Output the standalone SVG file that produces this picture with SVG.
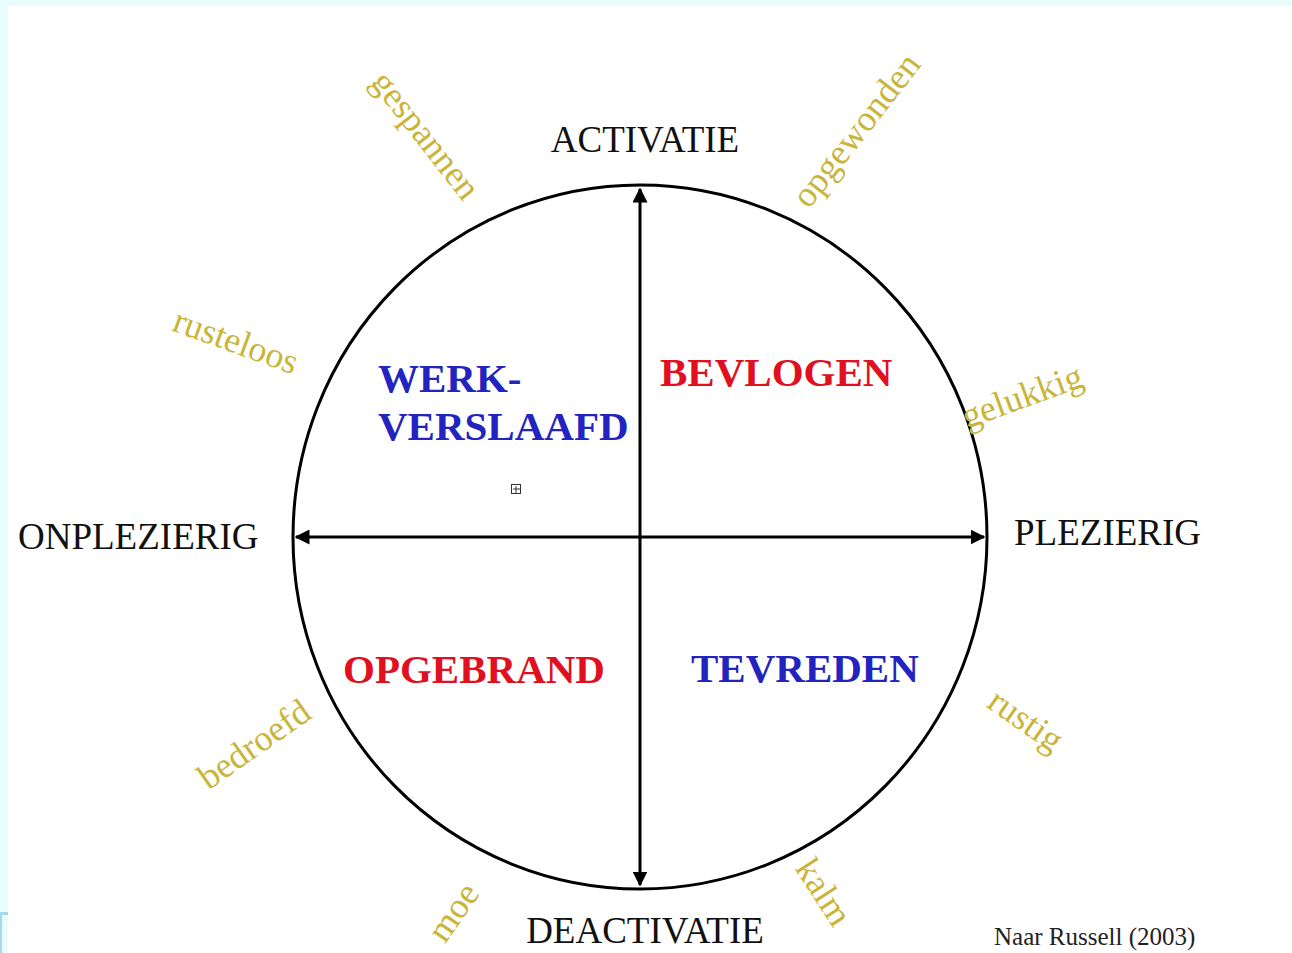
<svg xmlns="http://www.w3.org/2000/svg" width="1292" height="953" viewBox="0 0 1292 953">
<defs>
<style>
.ax{font-family:"Liberation Serif","Times New Roman",serif;font-size:37px;fill:#111}
.q{font-family:"Liberation Serif","Times New Roman",serif;font-size:41px;font-weight:bold}
.blue{fill:#2323c0}
.red{fill:#e01020}
.w{font-family:"Liberation Serif","Times New Roman",serif;font-size:36px;fill:#c9b53a}
.ln{stroke:#000;stroke-width:3;fill:none}
</style>
<marker id="ah" viewBox="0 0 10 10" refX="9" refY="5" markerWidth="5" markerHeight="5" orient="auto-start-reverse"><path d="M0,0 L10,5 L0,10 z" fill="#000"/></marker>
</defs>
<rect x="0" y="0" width="1292" height="953" fill="#e8fcfc"/>
<rect x="8" y="6" width="1284" height="947" fill="#fff"/>
<rect x="0" y="912" width="8" height="3" fill="#a8d8f0"/>
<rect x="0" y="912" width="2" height="41" fill="#a8d8f0"/>
<g id="circle"><ellipse cx="640" cy="537" rx="347" ry="352" class="ln"/></g>
<g id="connectors">
<line x1="640" y1="885" x2="640" y2="189" class="ln" marker-start="url(#ah)" marker-end="url(#ah)"/>
<line x1="296" y1="537" x2="984" y2="537" class="ln" marker-start="url(#ah)" marker-end="url(#ah)"/>
</g>
<g id="activatie"><text x="645" y="152" class="ax" text-anchor="middle">ACTIVATIE</text></g>
<g id="deactivatie"><text x="645" y="943" class="ax" text-anchor="middle">DEACTIVATIE</text></g>
<g id="onplezierig"><text x="18" y="549" class="ax">ONPLEZIERIG</text></g>
<g id="plezierig"><text x="1014" y="545" class="ax">PLEZIERIG</text></g>
<g id="werkverslaafd"><text x="378" y="392" class="q blue">WERK-</text><text x="378" y="440" class="q blue">VERSLAAFD</text></g>
<g id="bevlogen"><text x="660" y="386" class="q red">BEVLOGEN</text></g>
<g id="opgebrand"><text x="343" y="683" class="q red">OPGEBRAND</text></g>
<g id="tevreden"><text x="691" y="682" class="q blue">TEVREDEN</text></g>
<g id="icon"><rect x="511.5" y="484.5" width="9" height="9" fill="none" stroke="#333" stroke-width="1"/><path d="M516 486v7M513 489h7" stroke="#333" stroke-width="1"/></g>
<g id="gespannen"><text class="w" text-anchor="middle" transform="translate(426,135) rotate(52)" dy="12">gespannen</text></g>
<g id="opgewonden"><text class="w" text-anchor="middle" transform="translate(856,130) rotate(-52)" dy="12">opgewonden</text></g>
<g id="rusteloos"><text class="w" text-anchor="middle" transform="translate(236,341) rotate(20)" dy="12">rusteloos</text></g>
<g id="gelukkig"><text class="w" text-anchor="middle" transform="translate(1022,396) rotate(-20)" dy="12">gelukkig</text></g>
<g id="bedroefd"><text class="w" text-anchor="middle" transform="translate(254,744) rotate(-35)" dy="12">bedroefd</text></g>
<g id="rustig"><text class="w" text-anchor="middle" transform="translate(1026,720) rotate(35)" dy="12">rustig</text></g>
<g id="moe"><text class="w" text-anchor="middle" transform="translate(453,912) rotate(-55)" dy="12">moe</text></g>
<g id="kalm"><text class="w" text-anchor="middle" transform="translate(824,892) rotate(57)" dy="12">kalm</text></g>
<g id="source"><text x="994" y="945" font-family="Liberation Serif,serif" font-size="25" fill="#222">Naar Russell (2003)</text></g>
</svg>
